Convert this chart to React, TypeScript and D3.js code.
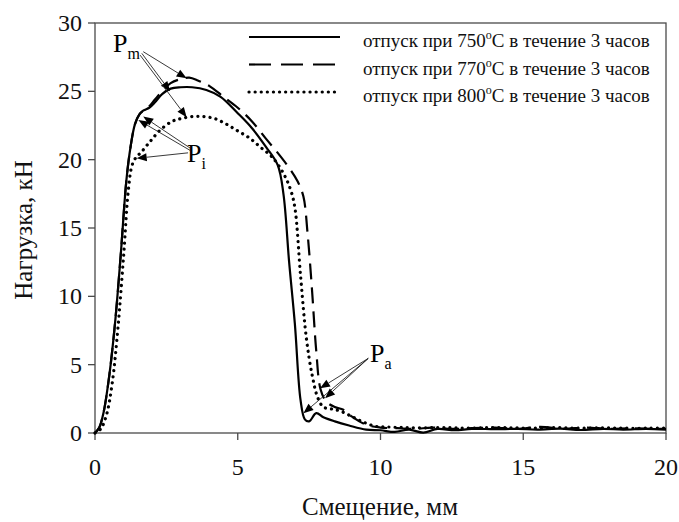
import React from "react";
import * as d3 from "d3";

const xTicks = [0, 5, 10, 15, 20];
const yTicks = [0, 5, 10, 15, 20, 25, 30];

const legendLabels = ["750", "770", "800"];

const x750 = [0, 0.15, 0.3, 0.5, 0.7, 0.9, 1.1, 1.25, 1.4, 1.55, 1.7, 1.9, 2.1, 2.35, 2.65, 3.0, 3.4, 3.9, 4.4, 5.0, 5.5, 6.0, 6.4, 6.6, 6.8, 7.0, 7.2, 7.35, 7.5, 7.75, 8.0, 8.4, 8.9, 9.5, 10.0, 10.5, 11.0, 11.5, 12.0, 12.6, 13.2, 14.0, 14.8, 15.5, 16.3, 17.0, 17.8, 18.5, 19.3, 20.0];
const y750 = [0, 0.4, 1.5, 4.2, 8.0, 13.0, 18.5, 21.0, 22.6, 23.3, 23.6, 23.8, 24.2, 24.8, 25.2, 25.3, 25.3, 25.1, 24.6, 23.4, 22.3, 20.9, 19.6, 17.5, 12.5, 8.0, 2.4, 1.0, 0.85, 1.45, 1.15, 0.85, 0.55, 0.25, 0.2, 0.08, 0.25, 0.03, 0.3, 0.2, 0.3, 0.28, 0.3, 0.25, 0.32, 0.22, 0.3, 0.25, 0.3, 0.25];

const x770 = [0, 0.15, 0.3, 0.5, 0.7, 0.9, 1.1, 1.25, 1.4, 1.55, 1.7, 1.9, 2.1, 2.35, 2.65, 3.0, 3.3, 3.6, 4.0, 4.5, 5.0, 5.5, 6.0, 6.4, 6.8, 7.1, 7.3, 7.45, 7.6, 7.75, 7.9, 8.1, 8.4, 8.7, 9.0, 9.5, 10.0, 10.6, 11.2, 11.8, 12.5, 13.2, 14.0, 14.8, 15.6, 16.4, 17.2, 18.0, 18.8, 19.5, 20.0];
const y770 = [0, 0.4, 1.5, 4.2, 8.0, 13.0, 18.5, 21.0, 22.6, 23.3, 23.6, 23.9, 24.4, 25.0, 25.6, 25.9, 26.0, 25.8, 25.4, 24.6, 23.8, 22.8, 21.5, 20.5, 19.4, 18.4, 17.3, 14.5, 10.5, 6.0, 3.2, 2.3, 1.9, 1.7, 1.2, 0.6, 0.4, 0.35, 0.3, 0.4, 0.3, 0.35, 0.4, 0.3, 0.45, 0.3, 0.4, 0.3, 0.35, 0.3, 0.3];

const x800 = [0, 0.2, 0.4, 0.6, 0.8, 1.0, 1.17, 1.3, 1.45, 1.6, 1.8, 2.0, 2.3, 2.7, 3.0, 3.4, 3.8, 4.2, 4.6, 5.0, 5.4, 5.8, 6.2, 6.6, 6.85, 7.0, 7.2, 7.4, 7.6, 7.8, 8.0, 8.3, 8.6, 9.0, 9.4, 9.8, 10.2, 10.8, 11.5, 12.2, 13.0, 13.8, 14.6, 15.4, 16.2, 17.0, 17.8, 18.6, 19.4, 20.0];
const y800 = [0, 0.3, 1.3, 3.6, 7.6, 12.9, 17.8, 19.6, 20.2, 20.5, 21.0, 21.5, 22.2, 22.8, 23.0, 23.15, 23.15, 23.0, 22.6, 22.1, 21.6, 20.9, 20.2, 19.0, 17.8, 16.5, 11.5, 7.0, 4.3, 2.6, 1.9, 1.75, 1.6, 1.2, 0.8, 0.5, 0.45, 0.4, 0.38, 0.4, 0.35, 0.4, 0.38, 0.35, 0.4, 0.35, 0.38, 0.35, 0.35, 0.35];

// annotation data: label position and arrow start/end in data units
const pmLabel = { x: 0.63, y: 27.9, sub: "m" };
const pmArrows = [
  [1.69, 27.9, 3.21, 25.95],
  [1.64, 27.78, 2.63, 25.0],
  [1.58, 27.65, 3.21, 23.1],
];
const piLabel = { x: 3.22, y: 19.85, sub: "i" };
const piArrows = [
  [3.33, 20.85, 1.69, 23.15],
  [3.33, 20.68, 1.52, 22.9],
  [3.26, 20.5, 1.46, 20.1],
];
const paLabel = { x: 9.63, y: 5.2, sub: "a" };
const paArrows = [
  [9.57, 5.46, 7.3, 1.44],
  [9.57, 5.46, 7.88, 3.27],
  [9.57, 5.46, 8.06, 2.54],
];

const W = 679;
const H = 522;
const L = 95, R = 666, T = 23, B = 433;
const FONT = "Times New Roman, Liberation Serif, Tinos, serif";
const AX = "#4a4a4a";

export default function App() {
  const xs = d3.scaleLinear().domain([0, 20]).range([L, R]);
  const ys = d3.scaleLinear().domain([0, 30]).range([B, T]);

  const mk = (xa: number[], ya: number[]) =>
    d3
      .line<number>()
      .x((_, i) => xs(xa[i]))
      .y((_, i) => ys(ya[i]))
      .curve(d3.curveCatmullRom.alpha(0.5))(xa) as string;

  const series = [
    { d: mk(x750, y750), dash: undefined, w: 2.2, cap: "butt" },
    { d: mk(x770, y770), dash: "16,8", w: 2.2, cap: "butt" },
    { d: mk(x800, y800), dash: "0.1,6", w: 3.2, cap: "round" },
  ];

  const arrow = (a: number[], k: string) => {
    const x1 = xs(a[0]), y1 = ys(a[1]), x2 = xs(a[2]), y2 = ys(a[3]);
    const ang = Math.atan2(y2 - y1, x2 - x1);
    const len = 10, wd = 4;
    const bx = x2 - len * Math.cos(ang), by = y2 - len * Math.sin(ang);
    const px = -Math.sin(ang) * wd, py = Math.cos(ang) * wd;
    return (
      <g key={k}>
        <line x1={x1} y1={y1} x2={bx} y2={by} stroke="#222" strokeWidth={0.9} />
        <path d={`M${x2},${y2}L${bx + px},${by + py}L${bx - px},${by - py}Z`} fill="#000" />
      </g>
    );
  };

  const tStyle = (size: number) => ({ fontFamily: FONT, fontSize: size + "px" });

  const label = (lb: { x: number; y: number; sub: string }, k: string) => (
    <text key={k} x={xs(lb.x)} y={ys(lb.y)} style={tStyle(26)} fill="#000">
      P
      <tspan style={tStyle(16)} dy={7}>{lb.sub}</tspan>
    </text>
  );

  const legY = [37, 64.5, 92];

  return (
    <svg width={W} height={H} style={{ position: "absolute", left: 0, top: 0, background: "#fff" }}>
      <rect x={0} y={0} width={W} height={H} fill="#fff" />
      {/* frame */}
      <rect x={L} y={T} width={R - L} height={B - T} fill="none" stroke={AX} strokeWidth={1.3} />
      {yTicks.map((t) => (
        <g key={"y" + t}>
          <line x1={L - 7} x2={L} y1={ys(t)} y2={ys(t)} stroke={AX} strokeWidth={1.3} />
          <text x={82} y={ys(t) + 8} textAnchor="end" style={tStyle(24)} fill="#111">
            {t}
          </text>
        </g>
      ))}
      {xTicks.map((t) => (
        <g key={"x" + t}>
          <line x1={xs(t)} x2={xs(t)} y1={B} y2={B + 7} stroke={AX} strokeWidth={1.3} />
          <text x={xs(t)} y={475} textAnchor="middle" style={tStyle(24)} fill="#111">
            {t}
          </text>
        </g>
      ))}
      <text x={380} y={515} textAnchor="middle" style={tStyle(25)} fill="#111">
        Смещение, мм
      </text>
      <text transform={`translate(32,230) rotate(-90)`} textAnchor="middle" style={tStyle(25)} fill="#111">
        Нагрузка, кН
      </text>
      {/* curves */}
      {series.map((s, i) => (
        <path key={i} d={s.d} fill="none" stroke="#000" strokeWidth={s.w} strokeDasharray={s.dash} strokeLinecap={s.cap as any} strokeLinejoin="round" />
      ))}
      {/* legend */}
      {series.map((s, i) => (
        <g key={"l" + i}>
          <line x1={249} x2={340} y1={legY[i]} y2={legY[i]} stroke="#000" strokeWidth={s.w} strokeDasharray={i === 1 ? "22,10" : s.dash} strokeLinecap={s.cap as any} />
          <text x={363} y={legY[i] + 10} style={tStyle(19)} fill="#111">
            отпуск при {legendLabels[i]}
            <tspan style={tStyle(12)} dy={-8}>o</tspan>
            <tspan dy={8}>C в течение 3 часов</tspan>
          </text>
        </g>
      ))}
      {/* annotations */}
      {pmArrows.map((a, i) => arrow(a, "pm" + i))}
      {piArrows.map((a, i) => arrow(a, "pi" + i))}
      {paArrows.map((a, i) => arrow(a, "pa" + i))}
      {label(pmLabel, "lpm")}
      {label(piLabel, "lpi")}
      {label(paLabel, "lpa")}
    </svg>
  );
}
